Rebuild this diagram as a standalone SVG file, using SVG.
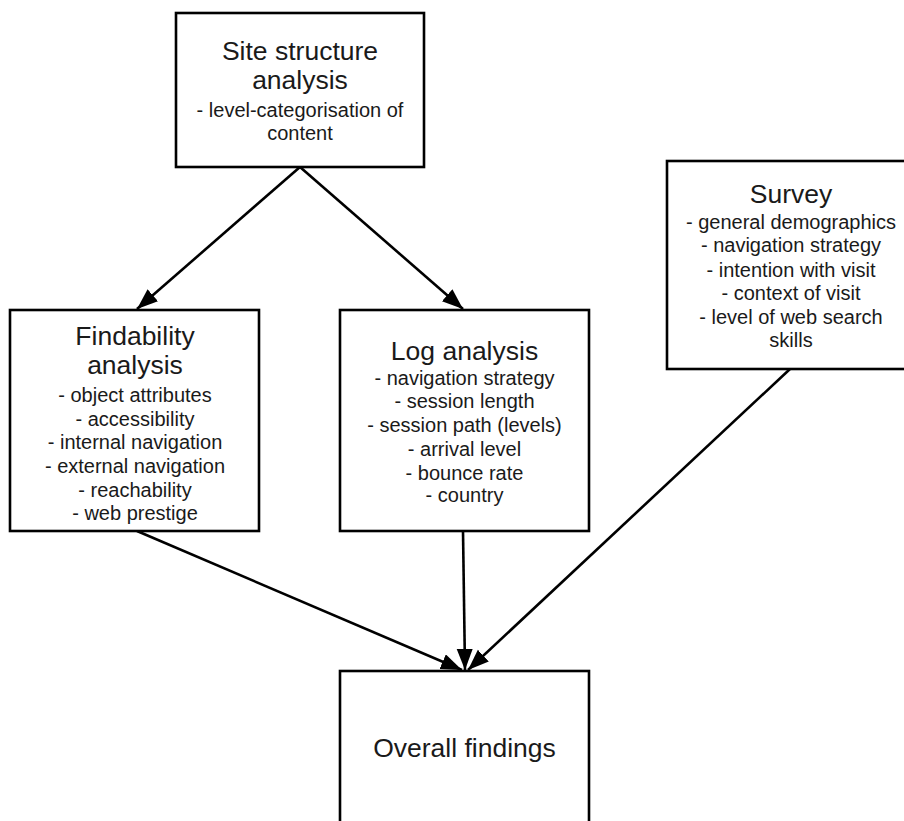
<svg xmlns="http://www.w3.org/2000/svg" width="904" height="821" viewBox="0 0 904 821">
<style>
.box{fill:#fff;stroke:#000;stroke-width:2.6}
.t{font-family:"Liberation Sans",Arial,sans-serif;font-size:26.5px;fill:#1a1a1a;text-anchor:middle}
.s{font-family:"Liberation Sans",Arial,sans-serif;font-size:20px;fill:#1a1a1a;text-anchor:middle}
.c{fill:none;stroke:#000;stroke-width:2.6}
</style>
<defs>
<marker id="arr" markerUnits="userSpaceOnUse" markerWidth="24" markerHeight="18" refX="21" refY="8" orient="auto">
<path d="M0,0 L21,8 L0,16 Z" fill="#000"/>
</marker>
</defs>
<rect width="904" height="821" fill="#fff"/>
<g id="connectors">
<line class="c" x1="300" y1="167" x2="137" y2="309" marker-end="url(#arr)"/>
<line class="c" x1="300" y1="167" x2="463" y2="309" marker-end="url(#arr)"/>
<line class="c" x1="137" y1="531" x2="462" y2="670" marker-end="url(#arr)"/>
<line class="c" x1="463" y1="531" x2="465" y2="670" marker-end="url(#arr)"/>
<line class="c" x1="790" y1="369" x2="468" y2="670" marker-end="url(#arr)"/>
</g>
<g id="site">
<rect class="box" x="176" y="13" width="248" height="154"/>
<text class="t" x="300" y="60">Site structure</text>
<text class="t" x="300" y="89">analysis</text>
<text class="s" x="300" y="117">- level-categorisation of</text>
<text class="s" x="300" y="140">content</text>
</g>
<g id="findability">
<rect class="box" x="10" y="310" width="249" height="221"/>
<text class="t" x="135" y="345">Findability</text>
<text class="t" x="135" y="374">analysis</text>
<text class="s" x="135" y="402">- object attributes</text>
<text class="s" x="135" y="426">- accessibility</text>
<text class="s" x="135" y="449">- internal navigation</text>
<text class="s" x="135" y="473">- external navigation</text>
<text class="s" x="135" y="497">- reachability</text>
<text class="s" x="135" y="520">- web prestige</text>
</g>
<g id="log">
<rect class="box" x="340" y="310" width="249" height="221"/>
<text class="t" x="464.5" y="360">Log analysis</text>
<text class="s" x="464.5" y="385">- navigation strategy</text>
<text class="s" x="464.5" y="408">- session length</text>
<text class="s" x="464.5" y="432">- session path (levels)</text>
<text class="s" x="464.5" y="456">- arrival level</text>
<text class="s" x="464.5" y="480">- bounce rate</text>
<text class="s" x="464.5" y="502">- country</text>
</g>
<g id="survey">
<rect class="box" x="667" y="161" width="250" height="208"/>
<text class="t" x="791" y="203">Survey</text>
<text class="s" x="791" y="229">- general demographics</text>
<text class="s" x="791" y="252">- navigation strategy</text>
<text class="s" x="791" y="277">- intention with visit</text>
<text class="s" x="791" y="300">- context of visit</text>
<text class="s" x="791" y="324">- level of web search</text>
<text class="s" x="791" y="347">skills</text>
</g>
<g id="overall">
<rect class="box" x="340" y="671" width="249" height="170"/>
<text class="t" x="464.5" y="757">Overall findings</text>
</g>
</svg>
